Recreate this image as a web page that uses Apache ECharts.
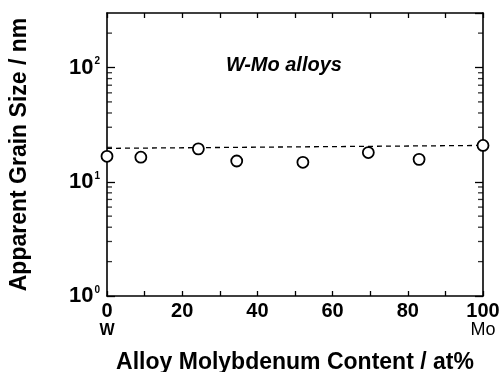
<!DOCTYPE html>
<html><head><meta charset="utf-8">
<script src="https://cdn.jsdelivr.net/npm/echarts@6/dist/echarts.min.js"></script>
<style>html,body{margin:0;padding:0;background:#fff}#c{width:504px;height:372px}</style>
</head><body><div id="c"></div>
<script>
// Data
var moContent = [0, 9, 24.3, 34.5, 52.1, 69.5, 83, 100];
var grainSize = [16.7, 16.4, 19.4, 15.2, 14.8, 18.0, 15.7, 20.8];
var trendX = [0, 100];
var trendY = [19.6, 20.8];
var minorTicks = [2,3,4,5,6,7,8,9,20,30,40,50,60,70,80,90,200];
var xTickLabels = {0: '0\n{w|W}', 20: '20', 40: '40', 60: '60', 80: '80', 100: '100\n{mo|Mo}'};

var FONT = '"Liberation Sans", Arial, sans-serif';
var chart = echarts.init(document.getElementById('c'), null, {renderer: 'canvas'});
var axisLine = {show: true, onZero: false, lineStyle: {color: '#000', width: 1.6}};
var tickStyle = {color: '#000', width: 1.3};

function yLabel(v) {
  var e = Math.log10(v);
  var r = Math.round(e);
  if (Math.abs(e - r) > 1e-6) return '';
  return '{b|10}{s|' + r + '}';
}

var option = {
  backgroundColor: '#fff',
  animation: false,
  grid: {left: 107, right: 21, top: 13, bottom: 76, containLabel: false, outerBoundsMode: 'none'},
  title: {
    text: 'W-Mo alloys', left: 221, top: 50,
    textStyle: {fontFamily: FONT, fontSize: 20, fontWeight: 'bold', fontStyle: 'italic', color: '#000'}
  },
  xAxis: [{
    type: 'value', min: 0, max: 100, interval: 10, position: 'bottom',
    axisLine: axisLine, splitLine: {show: false},
    axisTick: {show: true, inside: true, length: 5, lineStyle: tickStyle},
    axisLabel: {
      margin: 6, color: '#000', fontFamily: FONT, fontSize: 20, fontWeight: 'bold', lineHeight: 19,
      showMinLabel: true, showMaxLabel: true,
      formatter: function (v) { return xTickLabels[v] !== undefined ? xTickLabels[v] : ''; },
      rich: {
        w: {fontFamily: FONT, fontSize: 16, fontWeight: 'bold', color: '#000', lineHeight: 19},
        mo: {fontFamily: FONT, fontSize: 18, fontWeight: 'normal', color: '#000', lineHeight: 19}
      }
    },
    name: 'Alloy Molybdenum Content / at%', nameLocation: 'middle', nameGap: 55,
    nameTextStyle: {fontFamily: FONT, fontSize: 23, fontWeight: 'bold', color: '#000'}
  }, {
    type: 'value', min: 0, max: 100, interval: 10, position: 'top',
    axisLine: axisLine, splitLine: {show: false},
    axisTick: {show: true, inside: true, length: 5, lineStyle: tickStyle},
    axisLabel: {show: false}
  }],
  yAxis: [{
    type: 'log', logBase: 10, min: 1, max: 300, position: 'left',
    axisLine: axisLine, splitLine: {show: false},
    axisTick: {show: true, inside: true, length: 8, lineStyle: tickStyle},
    axisLabel: {
      margin: 7, color: '#000', showMaxLabel: false,
      formatter: yLabel,
      rich: {
        b: {fontFamily: FONT, fontSize: 22, fontWeight: 'bold', color: '#000'},
        s: {fontFamily: FONT, fontSize: 10, fontWeight: 'bold', color: '#000', padding: [0, 0, 12, 1]}
      }
    },
    name: 'Apparent Grain Size / nm', nameLocation: 'middle', nameGap: 76, nameRotate: 90,
    nameTextStyle: {fontFamily: FONT, fontSize: 23, fontWeight: 'bold', color: '#000'}
  }, {
    type: 'log', logBase: 10, min: 1, max: 300, position: 'right',
    axisLine: axisLine, splitLine: {show: false},
    axisTick: {show: true, inside: true, length: 8, lineStyle: tickStyle},
    axisLabel: {show: false}
  }],
  series: [{
    type: 'scatter', xAxisIndex: 0, yAxisIndex: 0, silent: true, clip: false,
    symbol: 'rect', symbolSize: [5, 1.3], symbolOffset: [2.5, 0],
    data: minorTicks.map(function (v) { return [0, v]; }),
    itemStyle: {color: '#000'}, z: 3
  }, {
    type: 'scatter', xAxisIndex: 0, yAxisIndex: 0, silent: true, clip: false,
    symbol: 'rect', symbolSize: [5, 1.3], symbolOffset: [-2.5, 0],
    data: minorTicks.map(function (v) { return [100, v]; }),
    itemStyle: {color: '#000'}, z: 3
  }, {
    type: 'line', xAxisIndex: 0, yAxisIndex: 0, symbol: 'none', silent: true,
    data: trendX.map(function (x, i) { return [x, trendY[i]]; }),
    lineStyle: {color: '#000', width: 1.3, type: [5, 4]}
  }, {
    type: 'scatter', xAxisIndex: 0, yAxisIndex: 0, symbol: 'circle', symbolSize: 11,
    data: moContent.map(function (x, i) { return [x, grainSize[i]]; }),
    itemStyle: {color: '#fff', borderColor: '#000', borderWidth: 1.8, opacity: 1},
    z: 5
  }]
};
chart.setOption(option);
</script></body></html>
